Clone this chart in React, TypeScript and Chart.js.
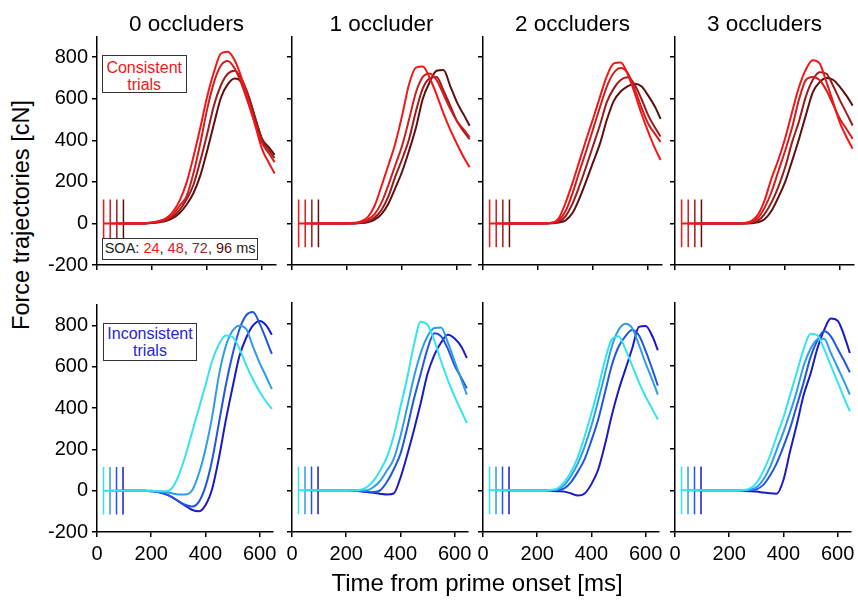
import React, { useEffect, useRef } from "react";
import { Chart, registerables } from "chart.js";

Chart.register(...registerables);

// ---------------- data ----------------
const SOA_MS = [24, 48, 72, 96];
const TIMES_MS = [150, 175, 200, 225, 250, 275, 300, 325, 350, 375, 400, 425, 450, 475, 500, 525, 550, 575, 600, 625, 645];
const Y_TICKS = [-200, 0, 200, 400, 600, 800];
const X_TICKS = [0, 200, 400, 600];
const PANEL_TITLES = ["0 occluders", "1 occluder", "2 occluders", "3 occluders"];
const MARKER_HALF = 115;

const RED_SHADES = ["#f41616", "#cf1e1e", "#9c1b1b", "#5c1010"];
const BLUE_SHADES = ["#33e3ef", "#2e9ce6", "#2356e0", "#1a1ac6"];

// consistent trials, one row per SOA (24, 48, 72, 96)
const CONSISTENT_0 = [
  [0, 2, 5, 12, 25, 55, 110, 195, 320, 460, 610, 730, 818, 826, 785, 700, 590, 470, 355, 290, 240],
  [0, 1, 4, 10, 20, 42, 85, 130, 240, 385, 550, 680, 760, 782, 745, 670, 575, 475, 385, 335, 295],
  [0, 0, 3, 8, 16, 32, 65, 115, 185, 300, 430, 570, 665, 720, 735, 695, 615, 505, 400, 350, 315],
  [0, 0, 2, 6, 12, 25, 50, 90, 145, 230, 350, 480, 605, 670, 698, 680, 610, 505, 405, 365, 330],
];
const CONSISTENT_1 = [
  [0, 0, 1, 3, 10, 30, 85, 180, 280, 385, 520, 670, 750, 755, 700, 620, 530, 450, 380, 315, 270],
  [0, 0, 0, 2, 6, 18, 45, 100, 185, 280, 375, 500, 630, 705, 722, 690, 620, 550, 490, 450, 415],
  [0, 0, 0, 0, 3, 10, 28, 65, 130, 225, 310, 405, 540, 650, 698, 705, 640, 565, 490, 440, 405],
  [0, 0, 0, 0, 2, 6, 18, 45, 95, 170, 250, 350, 460, 600, 680, 735, 738, 660, 580, 520, 470],
];
const CONSISTENT_2 = [
  [0, 0, 0, 1, 3, 25, 100, 195, 300, 405, 505, 610, 710, 770, 775, 720, 630, 530, 440, 360, 305],
  [0, 0, 0, 1, 3, 15, 60, 145, 250, 350, 455, 560, 660, 725, 748, 725, 650, 560, 480, 430, 392],
  [0, 0, 0, 0, 2, 8, 35, 95, 180, 275, 375, 475, 585, 650, 690, 703, 670, 600, 520, 460, 418],
  [0, 0, 0, 0, 1, 4, 15, 50, 120, 205, 295, 385, 500, 590, 635, 660, 672, 660, 615, 560, 503],
];
const CONSISTENT_3 = [
  [0, 0, 0, 0, 2, 10, 40, 110, 215, 305, 410, 535, 655, 740, 785, 770, 680, 580, 480, 410, 360],
  [0, 0, 0, 0, 1, 6, 25, 75, 150, 250, 350, 460, 595, 690, 705, 690, 640, 570, 500, 450, 407],
  [0, 0, 0, 0, 0, 3, 12, 45, 100, 175, 270, 390, 490, 610, 690, 728, 720, 660, 590, 525, 471],
  [0, 0, 0, 0, 0, 1, 5, 20, 60, 125, 200, 300, 405, 520, 630, 680, 700, 690, 655, 610, 567],
];

// inconsistent trials, one row per SOA (24, 48, 72, 96)
const INCONSISTENT_0 = [
  [0, 0, 0, -2, -3, 10, 70, 165, 280, 395, 510, 630, 710, 752, 745, 690, 610, 540, 480, 430, 396],
  [0, 0, 0, -2, -6, -12, -18, -18, 0, 80, 200, 360, 560, 700, 775, 800, 785, 700, 620, 550, 492],
  [0, 0, -2, -6, -15, -30, -50, -68, -77, -55, 20, 150, 330, 510, 660, 780, 850, 866, 810, 730, 663],
  [0, 0, -2, -6, -15, -30, -50, -72, -92, -100, -70, 10, 160, 340, 500, 650, 740, 800, 823, 800, 756],
];
const INCONSISTENT_1 = [
  [0, 0, 0, 0, 2, 15, 45, 95, 160, 260, 400, 540, 700, 810, 795, 720, 620, 530, 450, 380, 323],
  [0, 0, 0, 0, -1, 0, 15, 45, 95, 150, 260, 400, 545, 660, 740, 780, 782, 710, 620, 530, 460],
  [0, 0, 0, 0, -3, -6, -8, 0, 40, 100, 175, 300, 440, 560, 680, 755, 740, 680, 600, 540, 490],
  [0, 0, 0, -1, -4, -8, -12, -16, -20, -15, 60, 170, 290, 420, 560, 650, 710, 748, 730, 690, 636],
];
const INCONSISTENT_2 = [
  [0, 0, 0, 0, 2, 10, 40, 90, 160, 260, 370, 490, 625, 725, 740, 680, 600, 520, 450, 390, 340],
  [0, 0, 0, 0, 1, 5, 25, 70, 130, 210, 310, 430, 560, 690, 770, 800, 780, 700, 610, 530, 460],
  [0, 0, 0, 0, 0, 2, 10, 40, 90, 150, 240, 340, 470, 600, 690, 740, 770, 745, 670, 580, 503],
  [0, 0, 0, 0, -2, -4, -6, -15, -25, -15, 30, 100, 220, 360, 480, 580, 680, 785, 790, 740, 673],
];
const INCONSISTENT_3 = [
  [0, 0, 0, 0, 1, 8, 35, 90, 165, 260, 350, 460, 570, 680, 752, 745, 680, 600, 520, 440, 380],
  [0, 0, 0, 0, 0, 3, 15, 50, 110, 195, 280, 375, 480, 600, 680, 725, 728, 660, 590, 520, 460],
  [0, 0, 0, 0, 0, 0, 5, 25, 70, 130, 210, 300, 410, 520, 640, 720, 764, 740, 680, 620, 567],
  [0, 0, 0, 0, -2, -4, -6, -10, -14, -16, 50, 190, 320, 460, 560, 680, 770, 825, 815, 740, 660],
];

const CONSISTENT = [CONSISTENT_0, CONSISTENT_1, CONSISTENT_2, CONSISTENT_3];
const INCONSISTENT = [INCONSISTENT_0, INCONSISTENT_1, INCONSISTENT_2, INCONSISTENT_3];

// ---------------- layout ----------------
const FONT = "'Liberation Sans', Arial, Helvetica, sans-serif";
const COL_X0 = [97, 292, 483, 675];
const PLOT_W = 179;
const Y_AXIS_W = 58;
const RIGHT_PAD = 6;
const ROW_GEOM = [
  { top: 0, height: 295, padTop: 0, xAxisH: 30 },
  { top: 289, height: 287, padTop: 14, xAxisH: 44 },
];

function Panel({ row, col }: { row: number; col: number }) {
  const ref = useRef<HTMLCanvasElement | null>(null);
  const g = ROW_GEOM[row];
  const left = COL_X0[col] - Y_AXIS_W;
  const width = Y_AXIS_W + PLOT_W + RIGHT_PAD;

  useEffect(() => {
    if (!ref.current) return;
    const series = row === 0 ? CONSISTENT[col] : INCONSISTENT[col];
    const colors = row === 0 ? RED_SHADES : BLUE_SHADES;
    const datasets: any[] = [];
    SOA_MS.forEach((soa, i) => {
      datasets.push({
        data: [{ x: soa, y: 0 }, ...TIMES_MS.map((t, j) => ({ x: t, y: series[i][j] }))],
        borderColor: colors[i],
        borderWidth: 2,
        pointRadius: 0,
        cubicInterpolationMode: "monotone",
        fill: false,
        order: i,
      });
    });
    SOA_MS.forEach((soa, i) => {
      datasets.push({
        data: [
          { x: soa, y: -MARKER_HALF },
          { x: soa, y: MARKER_HALF },
        ],
        borderColor: colors[i],
        borderWidth: 1.5,
        pointRadius: 0,
        fill: false,
        order: 10 + i,
      });
    });

    const grid = {
      display: true,
      drawOnChartArea: false,
      drawTicks: true,
      tickLength: 5,
      color: "#000",
      lineWidth: 1.5,
    };
    const border = { display: true, color: "#000", width: 1.5 };

    const chart = new Chart(ref.current, {
      type: "line",
      data: { datasets },
      options: {
        responsive: false,
        animation: false,
        events: [],
        layout: { padding: { top: g.padTop, left: 0, right: RIGHT_PAD, bottom: 0 } },
        plugins: {
          legend: { display: false },
          tooltip: { enabled: false },
          title: {
            display: row === 0,
            text: PANEL_TITLES[col],
            fullSize: false,
            color: "#000",
            font: { size: 22.5, family: FONT, weight: "normal" },
            padding: { top: 11, bottom: -1.6 },
          },
        },
        scales: {
          x: {
            type: "linear",
            min: 0,
            max: 650,
            afterBuildTicks: (s: any) => {
              s.ticks = X_TICKS.map((v) => ({ value: v }));
            },
            afterFit: (s: any) => {
              s.height = g.xAxisH;
            },
            ticks: {
              display: row === 1,
              color: "#000",
              font: { size: 20, family: FONT },
              padding: 5,
              maxRotation: 0,
              autoSkip: false,
            },
            grid,
            border,
          },
          y: {
            type: "linear",
            min: -200,
            max: 900,
            afterBuildTicks: (s: any) => {
              s.ticks = Y_TICKS.map((v) => ({ value: v }));
            },
            afterFit: (s: any) => {
              s.width = Y_AXIS_W;
            },
            ticks: {
              display: col === 0,
              color: "#000",
              font: { size: 20, family: FONT },
              padding: 4,
            },
            grid,
            border,
          },
        },
      } as any,
    });
    return () => chart.destroy();
  }, [row, col]);

  return (
    <canvas
      ref={ref}
      width={width}
      height={g.height}
      style={{ position: "absolute", left, top: g.top, width, height: g.height }}
    />
  );
}

const boxBase: React.CSSProperties = {
  position: "absolute",
  boxSizing: "border-box",
  border: "1.5px solid #333",
  background: "#fff",
  fontFamily: FONT,
  textAlign: "center",
  whiteSpace: "nowrap",
};

export default function App() {
  const panels: JSX.Element[] = [];
  for (let r = 0; r < 2; r++) {
    for (let c = 0; c < 4; c++) {
      panels.push(<Panel key={`${r}-${c}`} row={r} col={c} />);
    }
  }
  return (
    <div
      style={{
        position: "absolute",
        left: 0,
        top: 0,
        width: 858,
        height: 601,
        background: "#fff",
        overflow: "hidden",
        fontFamily: FONT,
      }}
    >
      {panels}
      <div
        style={{
          position: "absolute",
          left: 22,
          top: 215,
          transform: "translate(-50%, -50%) rotate(-90deg)",
          whiteSpace: "nowrap",
          fontSize: 23.5,
          lineHeight: 1,
          color: "#000",
        }}
      >
        Force trajectories [cN]
      </div>
      <div
        style={{
          position: "absolute",
          left: 477,
          top: 583,
          transform: "translate(-50%, -50%)",
          whiteSpace: "nowrap",
          fontSize: 24,
          lineHeight: 1,
          color: "#000",
        }}
      >
        Time from prime onset [ms]
      </div>
      <div
        style={{
          ...boxBase,
          left: 101.7,
          top: 55,
          width: 85,
          height: 38.3,
          paddingTop: 3,
          fontSize: 16,
          lineHeight: "17px",
          color: RED_SHADES[0],
        }}
      >
        <div>Consistent</div>
        <div>trials</div>
      </div>
      <div
        style={{
          ...boxBase,
          left: 101.7,
          top: 238,
          width: 156.3,
          height: 22,
          fontSize: 14.5,
          lineHeight: "19px",
          textAlign: "left",
          paddingLeft: 2,
          color: "#222",
        }}
      >
        SOA: <span style={{ color: RED_SHADES[0] }}>{SOA_MS[0]}</span>,{" "}
        <span style={{ color: RED_SHADES[1] }}>{SOA_MS[1]}</span>,{" "}
        <span style={{ color: RED_SHADES[2] }}>{SOA_MS[2]}</span>,{" "}
        <span style={{ color: RED_SHADES[3] }}>{SOA_MS[3]}</span> ms
      </div>
      <div
        style={{
          ...boxBase,
          left: 102.7,
          top: 323.3,
          width: 94.6,
          height: 37.7,
          paddingTop: 1,
          fontSize: 16,
          lineHeight: "17px",
          color: "#2626d6",
        }}
      >
        <div>Inconsistent</div>
        <div>trials</div>
      </div>
    </div>
  );
}
